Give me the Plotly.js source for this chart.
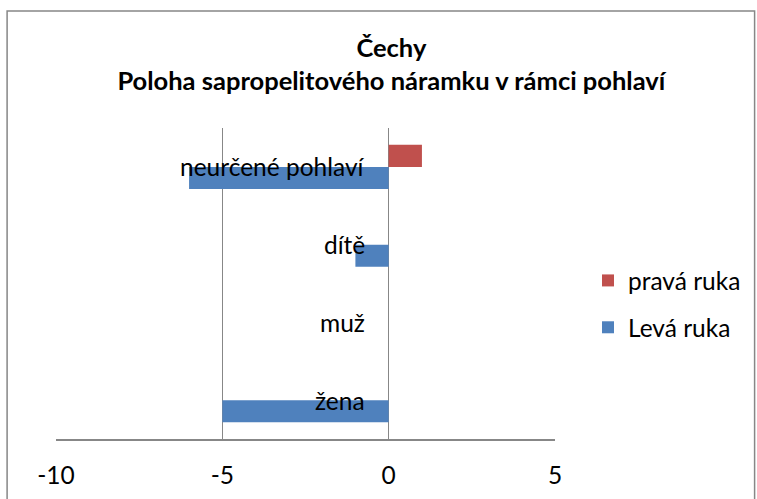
<!DOCTYPE html>
<html>
<head>
<meta charset="utf-8">
<script src="https://cdn.plot.ly/plotly-3.0.1.min.js"></script>
<style>
html,body{margin:0;padding:0;background:#fff;}
#chart{width:757px;height:499px;}
</style>
</head>
<body>
<div id="chart"></div>
<script>
const categories = ["žena", "muž", "dítě", "neurčené pohlaví"];
const levaRuka = [-5, 0, -1, -6];
const pravaRuka = [0, 0, 0, 1];
const xTicks = [-10, -5, 0, 5];

const FONT = "Lato, 'Open Sans', sans-serif";
const FS = 24.5;

const traces = [
  {type: "bar", orientation: "h", name: "Levá ruka", y: categories, x: levaRuka,
   legendgroup: "a", legendrank: 2, marker: {color: "#4F81BD"}, hoverinfo: "x+y"},
  {type: "bar", orientation: "h", name: "pravá ruka", y: categories, x: pravaRuka,
   legendgroup: "b", legendrank: 1, marker: {color: "#C0504D"}, hoverinfo: "x+y"}
];

const annotations = categories.map(c => ({
  x: 0, y: c, xref: "x", yref: "y", text: c, showarrow: false,
  xanchor: "right", yanchor: "middle", xshift: -22,
  font: {family: FONT, size: FS, color: "#000"}
}));

const layout = {
  width: 757, height: 499,
  margin: {l: 56, r: 201, t: 128, b: 60},
  paper_bgcolor: "#fff", plot_bgcolor: "#fff",
  barmode: "group", bargap: 0.43, bargroupgap: 0,
  title: {text: "<b>Čechy<br>Poloha sapropelitového náramku v rámci pohlaví</b>",
          x: 0.517, xanchor: "center", y: 1 - 57/499, yref: "container", yanchor: "top",
          font: {family: FONT, size: 25.5, color: "#000"}},
  xaxis: {range: [-10, 5], tickvals: xTicks, ticktext: xTicks.map(String),
          showgrid: true, gridcolor: "#878787", gridwidth: 1.5, zeroline: false,
          showline: true, linecolor: "#878787", linewidth: 1.5,
          ticks: "", ticklabelstandoff: 14,
          tickfont: {family: FONT, size: FS, color: "#000"}, fixedrange: true},
  yaxis: {type: "category", categoryarray: categories, showticklabels: false,
          showgrid: false, zeroline: false, showline: false, fixedrange: true},
  showlegend: true,
  legend: {x: (588 - 56) / 500, xanchor: "left", y: (439 - 304) / 311, yanchor: "middle",
           traceorder: "grouped", tracegroupgap: 12,
           font: {family: FONT, size: FS, color: "#000"}, itemwidth: 30},
  annotations: annotations,
  shapes: [{type: "rect", xref: "paper", yref: "paper",
            x0: -49/500, x1: 1.4, y0: -0.3, y1: (439-11)/311,
            line: {color: "#878787", width: 1.5}, fillcolor: "rgba(0,0,0,0)", layer: "below"}]
};

Plotly.newPlot("chart", traces, layout, {displayModeBar: false, staticPlot: true});
</script>
</body>
</html>
